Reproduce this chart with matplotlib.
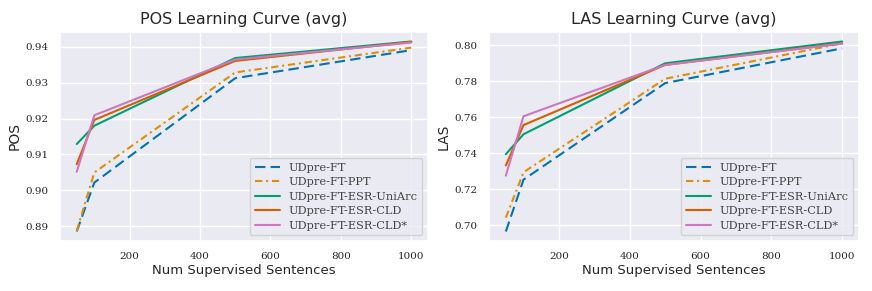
import matplotlib
matplotlib.use("Agg")
import matplotlib.pyplot as plt
import seaborn as sns

sns.set_theme(style="darkgrid")

sizes = [50, 100, 500, 1000]
labels = ["UDpre-FT", "UDpre-FT-PPT", "UDpre-FT-ESR-UniArc", "UDpre-FT-ESR-CLD", "UDpre-FT-ESR-CLD*"]

pos_ft = [0.8886, 0.9022, 0.9312, 0.9390]
pos_ppt = [0.8888, 0.9050, 0.9328, 0.9397]
pos_uniarc = [0.9129, 0.9180, 0.9368, 0.9414]
pos_cld = [0.9073, 0.9196, 0.9360, 0.9413]
pos_cldstar = [0.9052, 0.9209, 0.9364, 0.9411]

las_ft = [0.6965, 0.7253, 0.7789, 0.7982]
las_ppt = [0.7042, 0.7294, 0.7813, 0.8010]
las_uniarc = [0.7394, 0.7505, 0.7899, 0.8020]
las_cld = [0.7332, 0.7556, 0.7890, 0.8010]
las_cldstar = [0.7275, 0.7605, 0.7890, 0.8008]

pal = sns.color_palette("colorblind")
colors = [pal[0], pal[1], pal[2], pal[3], pal[4]]
styles = [(0, (5, 2.5)), (0, (3.5, 1.8, 1, 1.8)), "-", "-", "-"]

fig = plt.figure(figsize=(8.72, 2.91), dpi=100)
ax1 = fig.add_axes([60/872, 1-241/291, 368/872, 209/291])
ax2 = fig.add_axes([489/872, 1-241/291, 370/872, 209/291])

def draw(ax, series, title, ylabel):
    for s, lab, c, ls in zip(series, labels, colors, styles):
        ax.plot(sizes, s, color=c, linestyle=ls, linewidth=1.5, label=lab)
    ax.set_title(title, fontsize=11.5, family="DejaVu Sans")
    ax.set_xlabel("Num Supervised Sentences", fontsize=9.5, labelpad=2)
    ax.set_ylabel(ylabel, fontsize=10, labelpad=3)
    ax.set_xticks([200, 400, 600, 800, 1000])
    for t in ax.get_xticklabels() + ax.get_yticklabels():
        t.set_family("DejaVu Serif")
        t.set_fontsize(7.5)
    ax.tick_params(pad=2)
    leg = ax.legend(loc="lower right", prop={"family": "DejaVu Serif", "size": 8.2},
                    handlelength=2.2, borderpad=0.4, labelspacing=0.4, frameon=True)
    leg.get_frame().set_edgecolor("#cccccc")
    for t in leg.get_texts():
        t.set_color("#444444")

draw(ax1, [pos_ft, pos_ppt, pos_uniarc, pos_cld, pos_cldstar], "POS Learning Curve (avg)", "POS")
ax1.set_yticks([0.89, 0.90, 0.91, 0.92, 0.93, 0.94])
ax1.set_yticklabels(["0.89", "0.90", "0.91", "0.92", "0.93", "0.94"], family="DejaVu Serif", fontsize=7.5)
draw(ax2, [las_ft, las_ppt, las_uniarc, las_cld, las_cldstar], "LAS Learning Curve (avg)", "LAS")
ax2.set_yticks([0.70, 0.72, 0.74, 0.76, 0.78, 0.80])
ax2.set_yticklabels(["0.70", "0.72", "0.74", "0.76", "0.78", "0.80"], family="DejaVu Serif", fontsize=7.5)

fig.savefig("out.png", dpi=100)
